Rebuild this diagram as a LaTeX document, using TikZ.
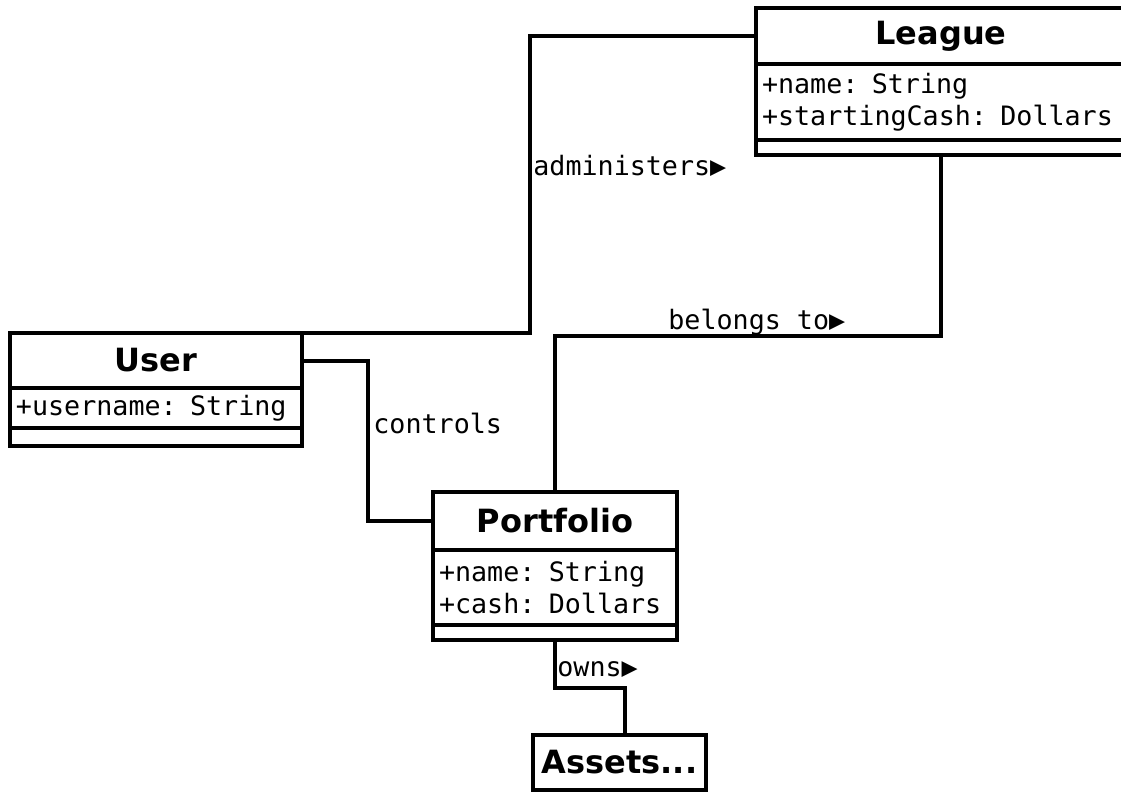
\documentclass[tikz,border=0pt]{standalone}
\usepackage{fontspec}
\setmainfont{DejaVu Sans}
\setmonofont{DejaVu Sans Mono}
\usetikzlibrary{positioning}

\newcommand{\dirmark}{▶}

\tikzset{
  umlbox/.style={draw, line width=2pt, outer sep=0pt, inner sep=0pt},
  classname/.style={umlbox, anchor=north west, font=\fontsize{16}{19}\bfseries\selectfont},
  classattr/.style={umlbox, inner xsep=3pt, align=left, font=\fontsize{13.35}{16}\ttfamily\selectfont},
  classops/.style={umlbox},
  assoc/.style={line width=2pt},
  assoclabel/.style={font=\fontsize{13.35}{16}\ttfamily\selectfont, inner sep=0pt, anchor=west},
}

\begin{document}
\begin{tikzpicture}[x=0.5pt, y=-0.5pt]
\useasboundingbox (0,0) rectangle (1121,792);

% League class
\node[classname, minimum width=185pt, minimum height=28pt] (League) at (756,8) {League};
\node[classattr, text width=179pt, minimum height=38pt, below=0pt of League] (League-a) {+name: String\\+startingCash: Dollars};
\node[classops, minimum width=185pt, minimum height=7.5pt, below=0pt of League-a] (League-o) {};

% User class
\node[classname, minimum width=146pt, minimum height=27.5pt] (User) at (10,333) {User};
\node[classattr, text width=140pt, minimum height=20pt, below=0pt of User] (User-a) {+username: String};
\node[classops, minimum width=146pt, minimum height=9pt, below=0pt of User-a] (User-o) {};

% Portfolio class
\node[classname, minimum width=122pt, minimum height=29pt] (Portfolio) at (433,492) {Portfolio};
\node[classattr, text width=116pt, minimum height=37.5pt, below=0pt of Portfolio] (Portfolio-a) {+name: String\\+cash: Dollars};
\node[classops, minimum width=122pt, minimum height=7.5pt, below=0pt of Portfolio-a] (Portfolio-o) {};

% Assets (collapsed)
\node[classname, minimum width=86.5pt, minimum height=27.5pt] (Assets) at (533,735) {Assets...};

% associations
\draw[assoc] (League.west) -- ++(-226,0) |- (User.north east);
\draw[assoc] (League-o.south) -- ++(0,181) -| (Portfolio.north);
\draw[assoc] (User.east) -- ++(66,0) |- (Portfolio.west);
\draw[assoc] (Portfolio-o.south) -- ++(0,48) -| ([xshift=2.5pt]Assets.north);

\node[assoclabel] (administers) at (533,166) {administers\dirmark};
\node[assoclabel] (belongsto) at (668,322) {belongs to\dirmark};
\node[assoclabel] (controls) at (373,423) {controls};
\node[assoclabel] (owns) at (557,670) {owns\dirmark};

\end{tikzpicture}
\end{document}
